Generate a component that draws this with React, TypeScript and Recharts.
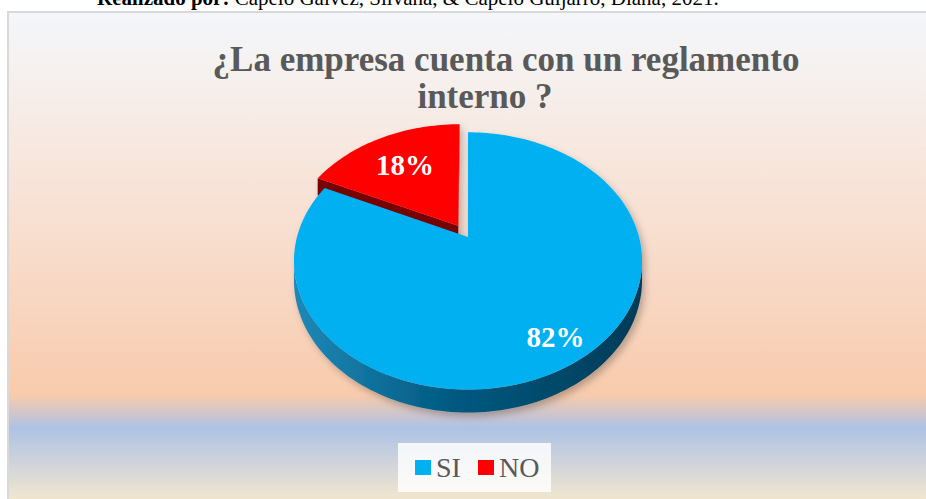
import React from 'react';
import { PieChart, Pie, Cell, Legend } from 'recharts';

// ---- data ----
const categories = ['SI', 'NO'];
const values = [82, 18];
const colors = ['#00B0F0', '#FF0000'];
const titleLines = ['¿La empresa cuenta con un reglamento', 'interno ?'];
const headerBold = 'Realizado por:';
const headerRest = ' Capelo Gálvez, Silvana, & Capelo Guijarro, Diana, 2021.';

// ---- styling (not data) ----
const SIDE: Record<string, string[]> = {
  SI: ['#2089B8', '#005A82', '#003A56'],
  NO: ['#8A0000', '#700000', '#560000'],
};
const FACE: Record<string, string> = { SI: '#00557E', NO: '#780000' };
const EXPLODE: Record<string, number> = { SI: 0, NO: 0.11 };
const LABEL_R: Record<string, number> = { SI: 0.83, NO: 0.66 };

// Draw the far (exploded) slice first so the near slice overlaps its side.
const total = values.reduce((a, b) => a + b, 0);
const pieData = [1, 0].map((i) => ({ name: categories[i], value: values[i], color: colors[i] }));
const START = 90 + (360 * values[1]) / total;

const K = 0.186; // perspective strength
const TILT = 0.726; // vertical squash
const DEPTH = 18.7; // side wall height
const SERIF = '"Liberation Serif", "Times New Roman", serif';

const rad = (d: number) => (d * Math.PI) / 180;
function proj(cx: number, cy: number, R: number, u: number, v: number, d = 0) {
  const w = 1 + K * v;
  return [cx + (R * u) / w, cy - (R * TILT * v) / w + d / w];
}
const toPath = (pts: number[][]) =>
  'M' + pts.map((p) => p[0].toFixed(2) + ',' + p[1].toFixed(2)).join('L') + 'Z';

function Slice3D(props: any) {
  const { cx, cy, outerRadius: R, startAngle, endAngle, fill } = props;
  const name = props.payload?.name ?? props.name;
  const e = EXPLODE[name] ?? 0;
  const a0 = Math.min(startAngle, endAngle);
  const a1 = Math.max(startAngle, endAngle);
  const mid = rad((a0 + a1) / 2);
  const ou = e * Math.cos(mid);
  const ov = e * Math.sin(mid);
  const P = (deg: number, r: number, d = 0) =>
    proj(cx, cy, R, ou + r * Math.cos(rad(deg)), ov + r * Math.sin(rad(deg)), d);
  const arc = (from: number, to: number, d = 0) => {
    const n = Math.max(2, Math.ceil(Math.abs(to - from) / 1.5));
    const pts: number[][] = [];
    for (let i = 0; i <= n; i++) pts.push(P(from + ((to - from) * i) / n, 1, d));
    return pts;
  };
  const lim = (Math.asin(K) * 180) / Math.PI;
  const walls: string[] = [];
  for (let n = -2; n <= 2; n++) {
    const lo = -180 + lim + 360 * n;
    const hi = -lim + 360 * n;
    const s = Math.max(a0, lo);
    const t = Math.min(a1, hi);
    if (t > s) walls.push(toPath([...arc(s, t, 0), ...arc(t, s, DEPTH)]));
  }
  const faces: string[] = [];
  const cam = [0, -1 / K];
  if (a1 - a0 < 359.9) {
    [
      [a1, a1 + 90],
      [a0, a0 - 90],
    ].forEach(([a, phi]) => {
      const dot = (cam[0] - ou) * Math.cos(rad(phi)) + (cam[1] - ov) * Math.sin(rad(phi));
      if (dot > 0.01) {
        faces.push(toPath([P(a, 0, 0), P(a, 1, 0), P(a, 1, DEPTH), P(a, 0, DEPTH)]));
      }
    });
  }
  const top = toPath([P(0, 0, 0), ...arc(a0, a1, 0)]);
  const sc = SIDE[name] ?? ['#444', '#333', '#222'];
  const gid = `side-grad-${name}`;
  const fid = `shadow-${name}`;
  return (
    <g>
      <defs>
        <linearGradient id={gid} gradientUnits="userSpaceOnUse" x1={cx - R * 1.03} x2={cx + R * 1.03} y1={0} y2={0}>
          <stop offset="0%" stopColor={sc[0]} />
          <stop offset="45%" stopColor={sc[1]} />
          <stop offset="100%" stopColor={sc[2]} />
        </linearGradient>
        <filter id={fid} x="-20%" y="-20%" width="140%" height="140%">
          <feDropShadow dx="3" dy="4" stdDeviation="3.5" floodColor="#000" floodOpacity="0.25" />
        </filter>
      </defs>
      <g filter={`url(#${fid})`}>
        {walls.map((d, i) => (
          <path key={'w' + i} d={d} fill={`url(#${gid})`} />
        ))}
        {faces.map((d, i) => (
          <path key={'f' + i} d={d} fill={FACE[name] ?? '#333'} />
        ))}
        <path d={top} fill={fill} />
      </g>
    </g>
  );
}

function renderLabel(props: any) {
  const { cx, cy, outerRadius: R, percent } = props;
  const name = props.payload?.name ?? props.name;
  const m = props.midAngle ?? (props.startAngle + props.endAngle) / 2;
  const r = (EXPLODE[name] ?? 0) + (LABEL_R[name] ?? 0.7);
  const [x, y] = proj(cx, cy, R, r * Math.cos(rad(m)), r * Math.sin(rad(m)));
  return (
    <text
      x={x}
      y={y}
      textAnchor="middle"
      dominantBaseline="central"
      fill="#FFFFFF"
      fontWeight="bold"
      fontSize={29}
      fontFamily={SERIF}
    >
      {`${Math.round(percent * 100)}%`}
    </text>
  );
}

function renderLegend(props: any) {
  const payload = [...(props.payload ?? [])].sort(
    (a: any, b: any) => categories.indexOf(a.value) - categories.indexOf(b.value)
  );
  return (
    <div
      style={{
        width: 153,
        height: 49,
        background: 'rgba(255,255,255,0.82)',
        display: 'flex',
        alignItems: 'center',
        paddingLeft: 17,
        boxSizing: 'border-box',
        fontFamily: SERIF,
        fontSize: 28,
        color: '#595959',
      }}
    >
      {payload.map((p: any, i: number) => (
        <div key={i} style={{ display: 'flex', alignItems: 'center', marginRight: i === 0 ? 17 : 0 }}>
          <span style={{ display: 'inline-block', width: 16, height: 15, background: p.color, marginRight: 5 }} />
          <span style={{ lineHeight: '28px' }}>{p.value}</span>
        </div>
      ))}
    </div>
  );
}

export default function App() {
  return (
    <div
      style={{
        position: 'absolute',
        left: 0,
        top: 0,
        width: 926,
        height: 499,
        overflow: 'hidden',
        background: '#FFFFFF',
      }}
    >
      <div
        style={{
          position: 'absolute',
          left: 7,
          top: 11,
          width: 940,
          height: 520,
          border: '2px solid #D9D9D9',
          boxSizing: 'border-box',
          background:
            'linear-gradient(to bottom, #F4F6FA 0px, #F5F2F1 47px, #F7EAE3 117px, #F8DCCB 240px, #F8CBAD 382px, #AEC2E4 415px, #D8D8D8 459px, #F1E7CF 486px, #F1E7CF 520px)',
        }}
      />
      <div style={{ position: 'absolute', left: 0, top: 0 }}>
        <PieChart width={926} height={499} margin={{ top: 0, right: 0, bottom: 0, left: 0 }}>
          <Pie
            data={pieData}
            dataKey="value"
            nameKey="name"
            cx={468}
            cy={237}
            outerRadius={171}
            startAngle={START}
            endAngle={START - 360}
            stroke="none"
            isAnimationActive={false}
            label={renderLabel}
            labelLine={false}
            shape={Slice3D}
            inactiveShape={Slice3D}
            activeShape={Slice3D}
          >
            {pieData.map((d) => (
              <Cell key={d.name} fill={d.color} />
            ))}
          </Pie>
          <Legend
            content={renderLegend}
            wrapperStyle={{ position: 'absolute', left: 398, top: 443, width: 153, height: 49 }}
          />
        </PieChart>
      </div>
      <svg
        width={926}
        height={499}
        style={{ position: 'absolute', left: 0, top: 0, pointerEvents: 'none' }}
      >
        <text x={97} y={5} fontFamily={SERIF} fontSize={21} fill="#000">
          <tspan fontWeight="bold">{headerBold}</tspan>
          <tspan>{headerRest}</tspan>
        </text>
        <text x={506} y={71} textAnchor="middle" fontFamily={SERIF} fontSize={35} fontWeight="bold" fill="#595959">
          {titleLines[0]}
        </text>
        <text x={485} y={108} textAnchor="middle" fontFamily={SERIF} fontSize={35} fontWeight="bold" fill="#595959">
          {titleLines[1]}
        </text>
      </svg>
    </div>
  );
}
